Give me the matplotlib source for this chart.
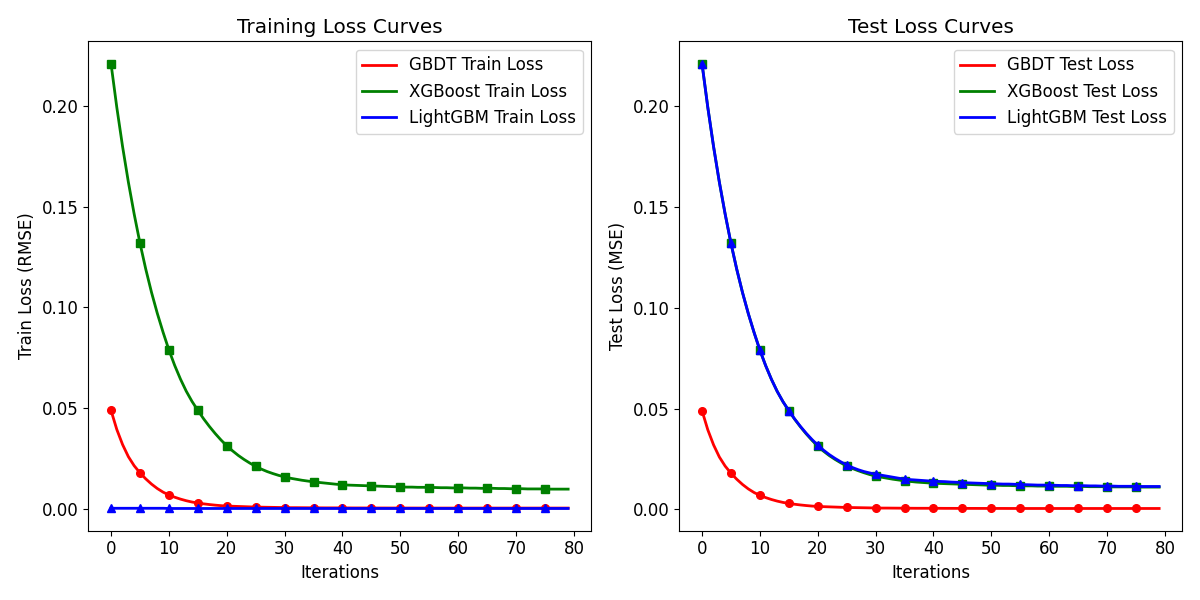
import numpy as np
import matplotlib
matplotlib.use("Agg")
import matplotlib.pyplot as plt

plt.rcParams['font.size'] = 12

iterations = list(range(80))

# values, one per boosting iteration
gbdt_train = [0.049, 0.0395, 0.032, 0.026, 0.0215, 0.018, 0.015, 0.0124, 0.0102, 0.0084,
              0.007, 0.0059, 0.00495, 0.00415, 0.0035, 0.003, 0.0026, 0.00225, 0.00195, 0.0017,
              0.0015, 0.0014, 0.0013, 0.0012, 0.0011, 0.001, 0.00095, 0.0009, 0.00085, 0.0008,
              0.00075, 0.0007, 0.0007, 0.00068, 0.00066, 0.00064, 0.00062, 0.0006, 0.0006, 0.0006,
              0.00058, 0.00058, 0.00056, 0.00056, 0.00055, 0.00055, 0.00054, 0.00054, 0.00053, 0.00053,
              0.00052, 0.00052, 0.00052, 0.00051, 0.00051, 0.00051, 0.0005, 0.0005, 0.0005, 0.0005,
              0.0005, 0.0005, 0.0005, 0.0005, 0.0005, 0.0005, 0.0005, 0.0005, 0.0005, 0.0005,
              0.0005, 0.0005, 0.0005, 0.0005, 0.0005, 0.0005, 0.0005, 0.0005, 0.0005, 0.0005]

xgb_train = [0.221, 0.1993, 0.1798, 0.1622, 0.1464, 0.132, 0.1191, 0.1075, 0.0971, 0.0877,
             0.079, 0.0713, 0.0645, 0.0585, 0.0534, 0.049, 0.0448, 0.041, 0.0375, 0.0343,
             0.0314, 0.0289, 0.0266, 0.0246, 0.0228, 0.0212, 0.0198, 0.0186, 0.0176, 0.0167,
             0.016, 0.0153, 0.0148, 0.0143, 0.0139, 0.0135, 0.0132, 0.0129, 0.0126, 0.0123,
             0.0121, 0.0119, 0.0118, 0.0117, 0.0116, 0.0115, 0.0114, 0.0113, 0.0112, 0.0111,
             0.011, 0.0109, 0.0109, 0.0108, 0.0108, 0.0107, 0.0107, 0.0106, 0.0106, 0.0105,
             0.0105, 0.0105, 0.0104, 0.0104, 0.0103, 0.0103, 0.0103, 0.0102, 0.0102, 0.0101,
             0.0101, 0.0101, 0.0100, 0.0100, 0.0100, 0.0100, 0.0099, 0.0099, 0.0099, 0.0099]

lgbm_train = [0.0004, 0.0004, 0.0004, 0.0004, 0.0004, 0.0004, 0.0004, 0.0004, 0.0004, 0.0004,
              0.0003, 0.0003, 0.0003, 0.0003, 0.0003, 0.0003, 0.0003, 0.0003, 0.0003, 0.0003,
              0.0003, 0.0003, 0.0003, 0.0003, 0.0003, 0.0003, 0.0003, 0.0003, 0.0003, 0.0003,
              0.0003, 0.0003, 0.0003, 0.0003, 0.0003, 0.0003, 0.0003, 0.0003, 0.0003, 0.0003,
              0.0003, 0.0003, 0.0003, 0.0003, 0.0003, 0.0003, 0.0003, 0.0003, 0.0003, 0.0003,
              0.0003, 0.0003, 0.0003, 0.0003, 0.0003, 0.0003, 0.0003, 0.0003, 0.0003, 0.0003,
              0.0003, 0.0003, 0.0003, 0.0003, 0.0003, 0.0003, 0.0003, 0.0003, 0.0003, 0.0003,
              0.0003, 0.0003, 0.0003, 0.0003, 0.0003, 0.0003, 0.0003, 0.0003, 0.0003, 0.0003]

gbdt_test = [0.049, 0.0395, 0.032, 0.026, 0.0215, 0.018, 0.015, 0.0124, 0.0102, 0.0084,
             0.007, 0.0059, 0.00495, 0.00415, 0.0035, 0.003, 0.0026, 0.00225, 0.00195, 0.0017,
             0.0015, 0.0014, 0.0013, 0.0012, 0.0011, 0.001, 0.00095, 0.0009, 0.00085, 0.0008,
             0.00075, 0.0007, 0.0007, 0.00068, 0.00066, 0.00064, 0.00062, 0.0006, 0.0006, 0.0006,
             0.00058, 0.00058, 0.00056, 0.00056, 0.00055, 0.00055, 0.00054, 0.00054, 0.00053, 0.00053,
             0.00052, 0.00052, 0.00052, 0.00051, 0.00051, 0.00051, 0.0005, 0.0005, 0.0005, 0.0005,
             0.0005, 0.0005, 0.0005, 0.0005, 0.0005, 0.0005, 0.0005, 0.0005, 0.0005, 0.0005,
             0.0005, 0.0005, 0.0005, 0.0005, 0.0005, 0.0005, 0.0005, 0.0005, 0.0005, 0.0005]

xgb_test = [0.221, 0.1993, 0.1798, 0.1622, 0.1464, 0.132, 0.1191, 0.1075, 0.0971, 0.0877,
            0.079, 0.0713, 0.0645, 0.0585, 0.0534, 0.049, 0.0448, 0.041, 0.0375, 0.0343,
            0.0314, 0.0289, 0.0267, 0.0248, 0.0231, 0.0216, 0.0203, 0.0192, 0.0182, 0.0173,
            0.0166, 0.016, 0.0155, 0.015, 0.0146, 0.0142, 0.0139, 0.0136, 0.0134, 0.0132,
            0.013, 0.0129, 0.0128, 0.0127, 0.0126, 0.0125, 0.0124, 0.0123, 0.0122, 0.0121,
            0.012, 0.012, 0.0119, 0.0119, 0.0118, 0.0118, 0.0117, 0.0117, 0.0116, 0.0116,
            0.0116, 0.0115, 0.0115, 0.0115, 0.0114, 0.0114, 0.0114, 0.0113, 0.0113, 0.0113,
            0.0113, 0.0112, 0.0112, 0.0112, 0.0112, 0.0112, 0.0111, 0.0111, 0.0111, 0.0111]

lgbm_test = [0.221, 0.1993, 0.1798, 0.1622, 0.1464, 0.132, 0.1191, 0.1075, 0.0971, 0.0877,
             0.079, 0.0713, 0.0645, 0.0585, 0.0534, 0.049, 0.0449, 0.0412, 0.0378, 0.0347,
             0.0319, 0.0294, 0.0272, 0.0253, 0.0236, 0.0221, 0.0208, 0.0197, 0.0188, 0.0181,
             0.0175, 0.017, 0.0165, 0.016, 0.0155, 0.0151, 0.0148, 0.0146, 0.0144, 0.0142,
             0.014, 0.0139, 0.0138, 0.0136, 0.0135, 0.0133, 0.0132, 0.0131, 0.013, 0.0129,
             0.0128, 0.0127, 0.0126, 0.0126, 0.0125, 0.0124, 0.0123, 0.0122, 0.0121, 0.0121,
             0.012, 0.012, 0.0119, 0.0119, 0.0118, 0.0118, 0.0118, 0.0117, 0.0117, 0.0116,
             0.0116, 0.0116, 0.0115, 0.0115, 0.0115, 0.0115, 0.0114, 0.0114, 0.0114, 0.0114]

fig, (ax1, ax2) = plt.subplots(1, 2, figsize=(12, 6))

def draw(ax, y, color, marker, label):
    # line carries the legend entry, markers every 5 iterations are drawn on their own
    ax.plot(iterations, y, color=color, lw=2, label=label)
    ax.plot(iterations[::5], y[::5], color=color, lw=0, marker=marker, ms=5.5)

draw(ax1, gbdt_train, 'red', 'o', 'GBDT Train Loss')
draw(ax1, xgb_train, 'green', 's', 'XGBoost Train Loss')
draw(ax1, lgbm_train, 'blue', '^', 'LightGBM Train Loss')
ax1.set_title('Training Loss Curves')
ax1.set_xlabel('Iterations')
ax1.set_ylabel('Train Loss (RMSE)')
ax1.legend()

draw(ax2, gbdt_test, 'red', 'o', 'GBDT Test Loss')
draw(ax2, xgb_test, 'green', 's', 'XGBoost Test Loss')
draw(ax2, lgbm_test, 'blue', '^', 'LightGBM Test Loss')
ax2.set_title('Test Loss Curves')
ax2.set_xlabel('Iterations')
ax2.set_ylabel('Test Loss (MSE)')
ax2.legend()

plt.tight_layout()
plt.savefig('out.png', dpi=100)
